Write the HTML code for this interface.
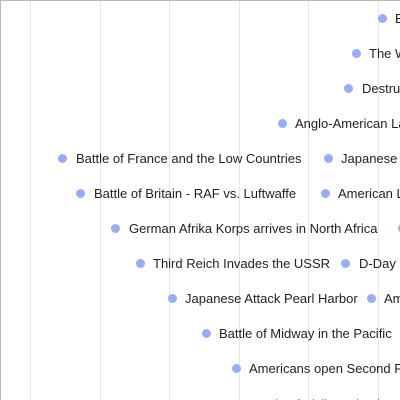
<!DOCTYPE html>
<html><head><style>
html,body{margin:0;padding:0;width:400px;height:400px;overflow:hidden;background:#fff}
.c{position:relative;width:400px;height:400px;border-left:1px solid #bbb;border-top:1px solid #bbb;box-sizing:border-box;overflow:hidden}
.g{position:absolute;top:0;height:400px;width:1px;background:#e6e6e6}
.d{position:absolute;width:9px;height:9px;border-radius:50%;background:#98adf5}
.t{position:absolute;font:13px "Liberation Sans",sans-serif;color:#222;white-space:nowrap;line-height:14px}
</style></head><body><div class="c">
<div class="g" style="left:29px"></div><div class="g" style="left:99px"></div><div class="g" style="left:168px"></div><div class="g" style="left:238px"></div><div class="g" style="left:307px"></div><div class="g" style="left:377px"></div>
<div class="d" style="left:377px;top:13px"></div><div class="t" style="left:394px;top:11px">Battle of the Bulge</div>
<div class="d" style="left:351px;top:48px"></div><div class="t" style="left:368px;top:46px">The War in Europe ends</div>
<div class="d" style="left:343px;top:83px"></div><div class="t" style="left:361px;top:81px">Destruction of Hiroshima</div>
<div class="d" style="left:277px;top:118px"></div><div class="t" style="left:294px;top:116px">Anglo-American Landings</div>
<div class="d" style="left:57px;top:153px"></div><div class="t" style="left:75px;top:151px">Battle of France and the Low Countries</div>
<div class="d" style="left:323px;top:153px"></div><div class="t" style="left:340px;top:151px">Japanese Surrender</div>
<div class="d" style="left:75px;top:188px"></div><div class="t" style="left:93px;top:186px">Battle of Britain - RAF vs. Luftwaffe</div>
<div class="d" style="left:320px;top:188px"></div><div class="t" style="left:337px;top:186px">American Landings</div>
<div class="d" style="left:110px;top:223px"></div><div class="t" style="left:128px;top:221px">German Afrika Korps arrives in North Africa</div>
<div class="d" style="left:397px;top:223px"></div>
<div class="d" style="left:135px;top:258px"></div><div class="t" style="left:152px;top:256px">Third Reich Invades the USSR</div>
<div class="d" style="left:340px;top:258px"></div><div class="t" style="left:358px;top:256px">D-Day</div>
<div class="d" style="left:167px;top:293px"></div><div class="t" style="left:184px;top:291px">Japanese Attack Pearl Harbor</div>
<div class="d" style="left:366px;top:293px"></div><div class="t" style="left:383px;top:291px">Americans</div>
<div class="d" style="left:201px;top:328px"></div><div class="t" style="left:218px;top:326px">Battle of Midway in the Pacific</div>
<div class="d" style="left:231px;top:363px"></div><div class="t" style="left:248px;top:361px">Americans open Second Front</div>
<div class="t" style="left:251px;top:397px">Battle of Sicily and Italy</div>
</div></body></html>
